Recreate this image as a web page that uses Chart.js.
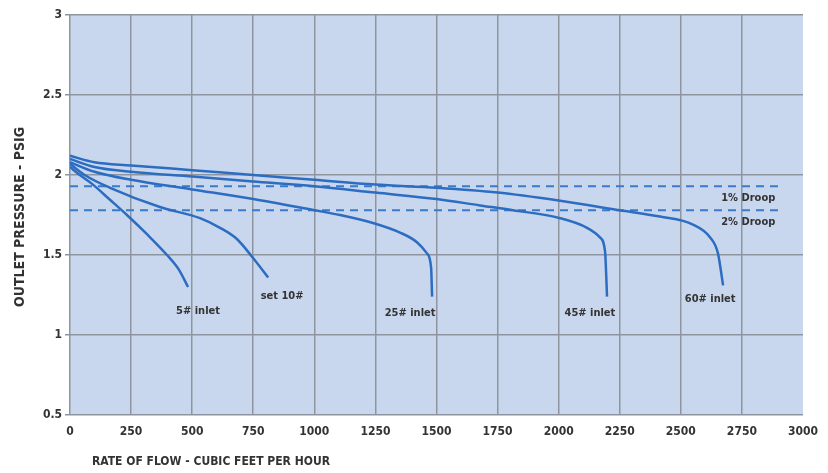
<!DOCTYPE html>
<html>
<head>
<meta charset="utf-8">
<script src="https://cdn.jsdelivr.net/npm/chart.js@4"></script>
<style>
  html, body { margin: 0; padding: 0; background: #fff; }
  #wrap { width: 828px; height: 473px; }
</style>
</head>
<body>
<div id="wrap"><canvas id="flowChart" width="828" height="473"></canvas></div>
<script>
// flow (cfh) vs outlet pressure (psig) for each inlet pressure
const flow5 = [0, 40, 94, 160, 233, 315, 397, 445, 483];
const psi5 = [2.05, 2.0, 1.94, 1.85, 1.75, 1.63, 1.50, 1.41, 1.30];

const flow10 = [0, 60, 164, 368, 532, 614, 683, 750, 811];
const psi10 = [2.07, 2.00, 1.92, 1.80, 1.73, 1.67, 1.60, 1.48, 1.36];

const flow25 = [0, 100, 250, 500, 750, 1000, 1105, 1240, 1351, 1420, 1461, 1478, 1482];
const psi25 = [2.08, 2.02, 1.97, 1.91, 1.85, 1.78, 1.75, 1.70, 1.64, 1.58, 1.51, 1.42, 1.24];

const flow45 = [0, 100, 250, 500, 750, 1000, 1250, 1500, 1678, 1813, 2006, 2116, 2169, 2190, 2198];
const psi45 = [2.10, 2.05, 2.02, 1.99, 1.96, 1.93, 1.89, 1.85, 1.81, 1.78, 1.73, 1.67, 1.61, 1.52, 1.24];

const flow60 = [0, 100, 250, 500, 750, 1000, 1250, 1500, 1750, 2000, 2250, 2415, 2550, 2620, 2652, 2673];
const psi60 = [2.12, 2.08, 2.06, 2.03, 2.00, 1.97, 1.94, 1.92, 1.89, 1.84, 1.78, 1.74, 1.69, 1.61, 1.51, 1.31];

// droop reference lines
const droopFlow = [0, 2910];
const droop1 = 1.93;
const droop2 = 1.78;

// curve labels
const labelText = ['5# inlet', 'set 10#', '25# inlet', '45# inlet', '60# inlet', '1% Droop', '2% Droop'];
const labelFlow = [524, 868, 1392, 2128, 2620, 2776, 2776];
const labelPsi = [1.15, 1.245, 1.134, 1.134, 1.227, 1.857, 1.707];

const xTicks = [0, 250, 500, 750, 1000, 1250, 1500, 1750, 2000, 2250, 2500, 2750, 3000];
const yTicks = [0.5, 1, 1.5, 2, 2.5, 3];

const FONT = "'DejaVu Sans Condensed', 'Liberation Sans Narrow', sans-serif";
const curveColor = '#2c6dc2';

function pts(xs, ys) {
    return xs.map((x, i) => ({ x: x, y: ys[i] }));
}

function curve(xs, ys) {
    return {
        data: pts(xs, ys),
        borderColor: curveColor,
        borderWidth: 2.5,
        pointRadius: 0,
        cubicInterpolationMode: 'monotone',
        fill: false
    };
}

function droop(v) {
    return {
        data: pts(droopFlow, [v, v]),
        borderColor: '#3a7acb',
        borderWidth: 2,
        borderDash: [8, 6],
        pointRadius: 0,
        fill: false
    };
}

// plot background + texts
const decor = {
    id: 'decor',
    beforeDraw(chart) {
        const a = chart.chartArea;
        const ctx = chart.ctx;
        ctx.save();
        ctx.fillStyle = '#c9d7ee';
        ctx.fillRect(a.left, a.top, a.right - a.left, a.bottom - a.top);
        ctx.restore();
    },
    afterDraw(chart) {
        const ctx = chart.ctx;
        const xs = chart.scales.x, ys = chart.scales.y;
        ctx.save();
        ctx.fillStyle = '#333';
        ctx.textAlign = 'center';
        ctx.textBaseline = 'middle';
        ctx.font = 'bold 11px ' + FONT;
        labelText.forEach((t, i) => {
            ctx.fillText(t, xs.getPixelForValue(labelFlow[i]), ys.getPixelForValue(labelPsi[i]));
        });
        ctx.font = 'bold 12px ' + FONT;
        ctx.textAlign = 'left';
        ctx.fillText('RATE OF FLOW - CUBIC FEET PER HOUR', 92, 462);
        ctx.translate(20, 217);
        ctx.rotate(-Math.PI / 2);
        ctx.textAlign = 'center';
        ctx.font = 'bold 14px ' + FONT;
        ctx.fillText('OUTLET PRESSURE - PSIG', 0, 0);
        ctx.restore();
    }
};

new Chart(document.getElementById('flowChart'), {
    type: 'line',
    data: {
        datasets: [
            curve(flow5, psi5),
            curve(flow10, psi10),
            curve(flow25, psi25),
            curve(flow45, psi45),
            curve(flow60, psi60),
            droop(droop1),
            droop(droop2)
        ]
    },
    options: {
        responsive: false,
        animation: false,
        layout: { padding: { top: 15, right: 25, left: 0, bottom: 0 } },
        plugins: { legend: { display: false }, tooltip: { enabled: false } },
        scales: {
            x: {
                type: 'linear',
                min: 0,
                max: 3000,
                afterBuildTicks: s => { s.ticks = xTicks.map(v => ({ value: v })); },
                afterFit: s => { s.height = 58; },
                border: { display: false },
                grid: {
                    color: c => (c.tick && c.tick.value === 3000) ? 'rgba(0,0,0,0)' : '#8e959f',
                    lineWidth: 1.5,
                    drawTicks: false
                },
                ticks: {
                    color: '#333', padding: 10, maxRotation: 0,
                    font: { family: FONT, size: 12, weight: 'bold' },
                    callback: v => String(v)
                }
            },
            y: {
                min: 0.5,
                max: 3,
                afterBuildTicks: s => { s.ticks = yTicks.map(v => ({ value: v })); },
                afterFit: s => { s.width = 70; },
                border: { display: false },
                grid: { color: '#8e959f', lineWidth: 1.5, tickLength: 5 },
                ticks: {
                    color: '#333', padding: 3,
                    font: { family: FONT, size: 12, weight: 'bold' },
                    callback: v => String(v)
                }
            }
        }
    },
    plugins: [decor]
});
</script>
</body>
</html>
